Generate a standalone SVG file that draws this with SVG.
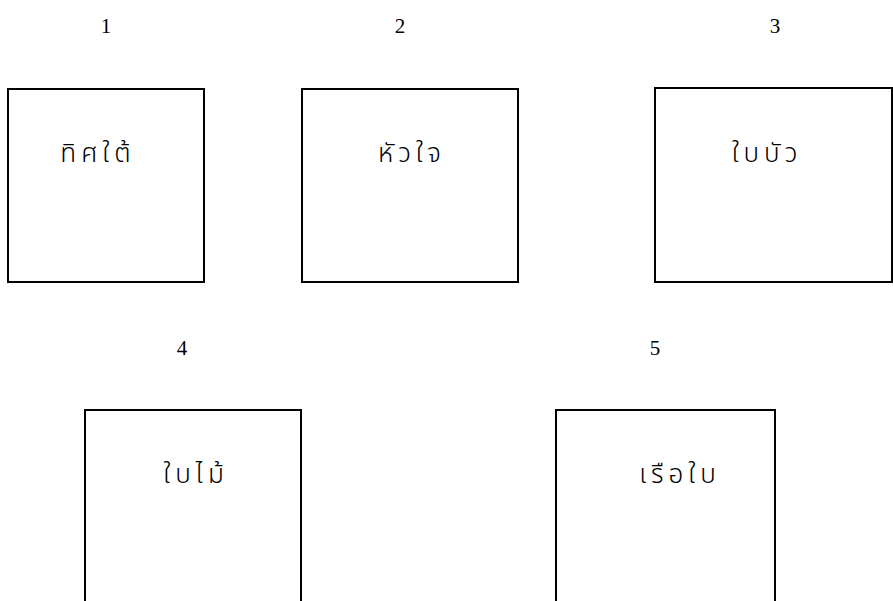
<svg xmlns="http://www.w3.org/2000/svg" width="893" height="601" viewBox="0 0 893 601">
<style>
.box{fill:none;stroke:#000;stroke-width:2}
.num{font-family:"Liberation Serif",serif;font-size:21px;fill:#000;text-anchor:middle}
.lbl{font-family:"Noto Sans Thai","Noto Sans","DejaVu Sans",sans-serif;font-size:26px;font-weight:300;fill:#000;text-anchor:middle;letter-spacing:5px}
</style>
<rect width="893" height="601" fill="#fff"/>
<g id="node1"><rect class="box" x="8" y="89" width="196" height="193"/><text class="num" x="106" y="33">1</text><text class="lbl" x="98" y="162">ทิศใต้</text></g>
<g id="node2"><rect class="box" x="302" y="89" width="216" height="193"/><text class="num" x="400" y="33">2</text><text class="lbl" x="412" y="162">หัวใจ</text></g>
<g id="node3"><rect class="box" x="655" y="88" width="237" height="194"/><text class="num" x="775" y="33">3</text><text class="lbl" x="767" y="162">ใบบัว</text></g>
<g id="node4"><path class="box" d="M85,602 V410 H301 V602"/><text class="num" x="182" y="355">4</text><text class="lbl" x="196" y="483">ใบไม้</text></g>
<g id="node5"><path class="box" d="M556,602 V410 H775 V602"/><text class="num" x="655" y="355">5</text><text class="lbl" x="680" y="483">เรือใบ</text></g>
<g id="connectors"></g>
</svg>
